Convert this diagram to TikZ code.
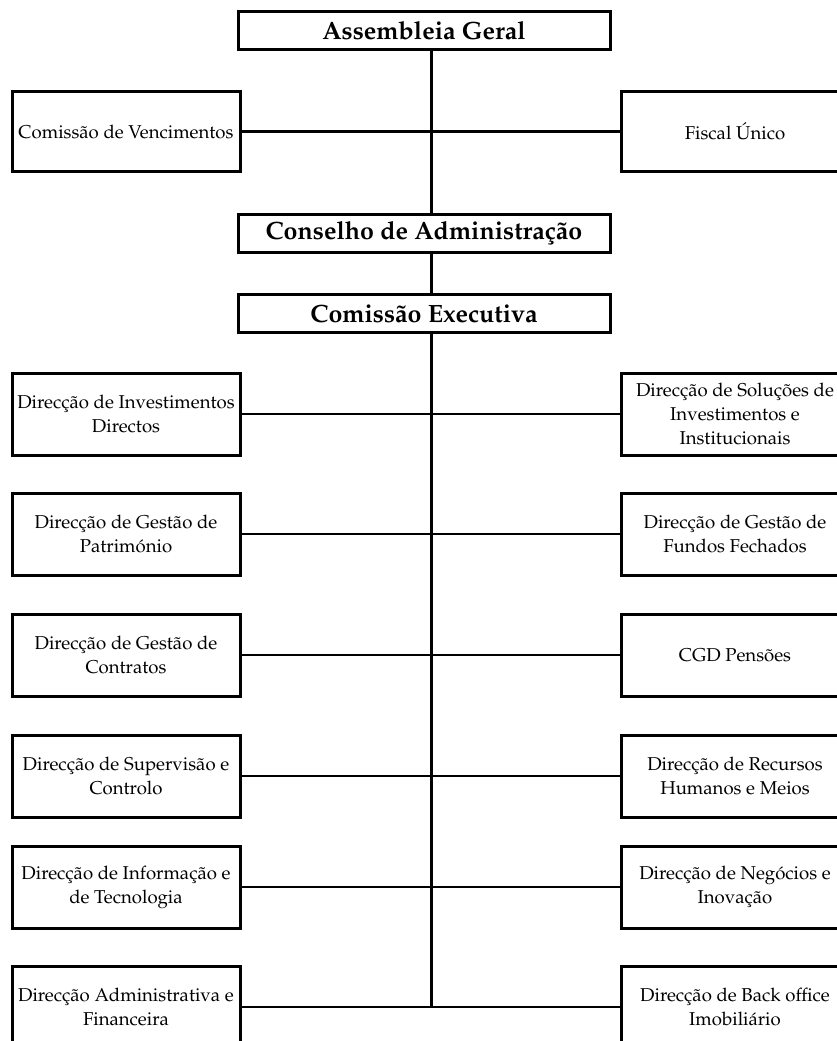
\documentclass[tikz,border=0pt]{standalone}
\usepackage[T1]{fontenc}
\usepackage{mathpazo}
\usepackage{tikz}

\begin{document}
\begin{tikzpicture}[x=1pt,y=-1pt,
    topbox/.style={draw,line width=3pt,minimum width=372pt,minimum height=38pt,inner sep=0pt,font=\fontsize{25}{29}\selectfont\bfseries},
    unit/.style={draw,line width=3pt,minimum width=228pt,minimum height=82pt,inner sep=0pt,align=center,font=\fontsize{18.6}{24}\selectfont},
    link/.style={line width=2.5pt},
    trunk/.style={line width=3pt}]
    \useasboundingbox (0,0) rectangle (837,1041);
    \node[topbox] (ag) at (424,31) {Assembleia Geral};
    \node[unit,minimum height=80pt] (cv) at (126,131.5) {Comissão de Vencimentos};
    \node[unit,minimum height=80pt] (fu) at (735,131.5) {Fiscal Único};
    \node[topbox] (ca) at (424,233) {Conselho de Administração};
    \node[topbox] (ce) at (424,313.5) {Comissão Executiva};
    \node[unit] (l1) at (126,414) {Direcção de Investimentos\\Directos};
    \node[unit] (r1) at (735,414) {Direcção de Soluções de\\Investimentos e\\Institucionais};
    \node[unit] (l2) at (126,534) {Direcção de Gestão de\\Património};
    \node[unit] (r2) at (735,534) {Direcção de Gestão de\\Fundos Fechados};
    \node[unit] (l3) at (126,655) {Direcção de Gestão de\\Contratos};
    \node[unit] (r3) at (735,655) {CGD Pensões};
    \node[unit] (l4) at (126,776) {Direcção de Supervisão e\\Controlo};
    \node[unit] (r4) at (735,776) {Direcção de Recursos\\Humanos e Meios};
    \node[unit] (l5) at (126,887) {Direcção de Informação e\\de Tecnologia};
    \node[unit] (r5) at (735,887) {Direcção de Negócios e\\Inovação};
    \node[unit] (l6) at (126,1007) {Direcção Administrativa e\\Financeira};
    \node[unit] (r6) at (735,1007) {Direcção de Back office\\Imobiliário};
    \coordinate (tend) at (431,1007);
    \draw[trunk] (ag.south -| tend) -- (ca.north -| tend);
    \draw[trunk] (ca.south -| tend) -- (ce.north -| tend);
    \draw[trunk] (ce.south -| tend) -- (tend);
    \draw[link] (cv.east) -- (fu.west);
    \draw[link] (l1.east) -- (r1.west);
    \draw[link] (l2.east) -- (r2.west);
    \draw[link] (l3.east) -- (r3.west);
    \draw[link] (l4.east) -- (r4.west);
    \draw[link] (l5.east) -- (r5.west);
    \draw[link] (l6.east) -- (r6.west);
\end{tikzpicture}
\end{document}
